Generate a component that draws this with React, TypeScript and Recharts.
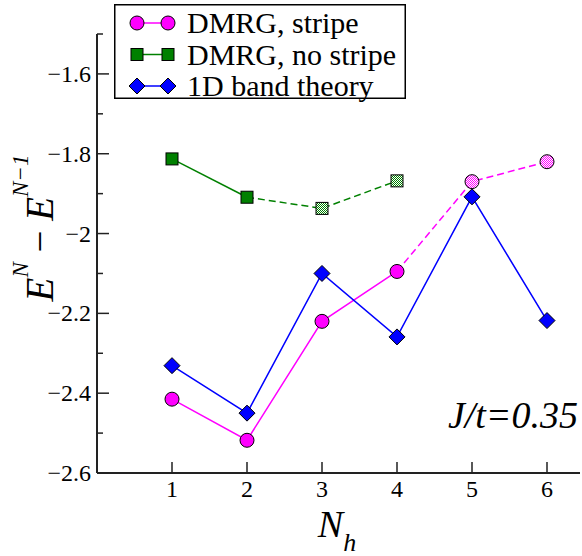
import React from 'react';
import { LineChart, Line, XAxis, YAxis, Label } from 'recharts';

const nh = [1, 2, 3, 4, 5, 6];
const stripe = [-2.415, -2.518, -2.22, -2.095, -1.87, -1.82];
const noStripe = [-1.813, -1.909, -1.937, -1.868];
const band = [-2.331, -2.45, -2.1, -2.259, -1.908, -2.218];

const xTicks = [1, 2, 3, 4, 5, 6];
const yTicks = [-2.6, -2.5, -2.4, -2.3, -2.2, -2.1, -2.0, -1.9, -1.8, -1.7, -1.6, -1.5];

// points drawn with the stippled (extrapolated) marker
const stripeHatched = [4, 5];
const noStripeHatched = [2, 3];

const FONT = "'Liberation Serif', 'DejaVu Serif', 'Times New Roman', serif";
const MAGENTA = '#ff00ff';
const GREEN = '#008000';
const BLUE = '#0000ff';

const rows = nh.map((n, i) => ({
  n,
  stripeSolid: i <= 3 ? stripe[i] : null,
  stripeDash: i >= 3 ? stripe[i] : null,
  noStripeSolid: i <= 1 ? noStripe[i] : null,
  noStripeDash: i >= 1 && i < noStripe.length ? noStripe[i] : null,
  band: band[i],
}));

function Marker({ kind, cx, cy, color, hatched }: any) {
  const pid = `hatch-${kind}`;
  const fill = hatched ? `url(#${pid})` : color;
  let shape;
  if (kind === 'circle') {
    shape = <circle cx={cx} cy={cy} r={7} fill={fill} stroke="#000" strokeWidth={1} />;
  } else if (kind === 'square') {
    shape = <rect x={cx - 6} y={cy - 6} width={12} height={12} fill={fill} stroke="#000" strokeWidth={1} />;
  } else {
    shape = (
      <polygon
        points={`${cx},${cy - 8} ${cx + 8},${cy} ${cx},${cy + 8} ${cx - 8},${cy}`}
        fill={fill}
        stroke="#000"
        strokeWidth={1}
      />
    );
  }
  return (
    <g>
      {hatched && (
        <defs>
          <pattern id={pid} width={2} height={2} patternUnits="userSpaceOnUse">
            <rect width={2} height={2} fill="#fff" />
            <rect width={1} height={1} fill={color} />
            <rect x={1} y={1} width={1} height={1} fill={color} />
          </pattern>
        </defs>
      )}
      {shape}
    </g>
  );
}

function dotFor(kind: string, color: string, only?: number[]) {
  return (props: any) => {
    const { cx, cy, index, value } = props;
    if (value == null || cx == null || cy == null || (only && !only.includes(index))) {
      return <g key={index} />;
    }
    const hatched =
      (kind === 'circle' && stripeHatched.includes(index)) ||
      (kind === 'square' && noStripeHatched.includes(index));
    return <Marker key={index} kind={kind} cx={cx} cy={cy} color={color} hatched={hatched} />;
  };
}

function fmt(v: number) {
  const s = Number.isInteger(v) ? String(v) : v.toFixed(1);
  return s.replace('-', '\u2212');
}

const serif = { fontFamily: FONT };

function YTick(props: any) {
  const { x, y, payload } = props;
  const v = payload.value;
  const major = Math.round(Math.abs(v) * 10) % 2 === 0;
  return (
    <g>
      <line x1={x} x2={x + (major ? 12 : 6)} y1={y} y2={y} stroke="#222" strokeWidth={1.5} />
      {major && (
        <text x={x - 6} y={y + 8} textAnchor="end" style={serif} fontSize={24} fill="#000">
          {fmt(Math.round(v * 10) / 10)}
        </text>
      )}
    </g>
  );
}

function XTick(props: any) {
  const { x, y, payload } = props;
  return (
    <g>
      <line x1={x} x2={x} y1={y} y2={y - 11} stroke="#222" strokeWidth={1.5} />
      <text x={x} y={y + 24} textAnchor="middle" style={serif} fontSize={24} fill="#000">
        {payload.value}
      </text>
    </g>
  );
}

const legendItems = [
  { kind: 'circle', color: MAGENTA, label: 'DMRG, stripe' },
  { kind: 'square', color: GREEN, label: 'DMRG, no stripe' },
  { kind: 'diamond', color: BLUE, label: '1D band theory' },
];

function Overlay() {
  return (
    <svg
      width={582}
      height={556}
      style={{ position: 'absolute', left: 0, top: 0, pointerEvents: 'none' }}
    >
      <g transform="translate(114, 4)">
        <rect x={0.75} y={0.75} width={290.5} height={93.5} fill="#fff" stroke="#000" strokeWidth={1.5} />
        {legendItems.map((it, i) => {
          const cy = 19 + i * 31.5;
          return (
            <g key={it.label}>
              <line x1={23} x2={54} y1={cy} y2={cy} stroke={it.color} strokeWidth={1.5} />
              <Marker kind={it.kind} cx={23} cy={cy} color={it.color} hatched={false} />
              <Marker kind={it.kind} cx={54} cy={cy} color={it.color} hatched={false} />
              <text x={73} y={cy + 10} style={serif} fontSize={30} fill="#000">
                {it.label}
              </text>
            </g>
          );
        })}
      </g>
      <text x={578} y={428} textAnchor="end" style={serif} fontStyle="italic" fontSize={38} fill="#000">
        J/t=0.35
      </text>
    </svg>
  );
}

export default function App() {
  return (
    <div style={{ position: 'absolute', left: 0, top: 0, width: 582, height: 556, background: '#fff' }}>
      <LineChart width={582} height={556} data={rows} margin={{ top: 34, right: 2, bottom: 0, left: 0 }}>
        <XAxis
          dataKey="n"
          type="number"
          domain={[0, 6.44]}
          ticks={xTicks}
          allowDataOverflow
          height={83}
          tickSize={0}
          tickMargin={0}
          tick={<XTick />}
          axisLine={{ stroke: '#222', strokeWidth: 2 }}
        >
          <Label
            content={() => (
              <text x={337} y={537} textAnchor="middle" style={serif} fontStyle="italic" fill="#000">
                <tspan fontSize={38}>N</tspan>
                <tspan fontSize={26} dy={14}>h</tspan>
              </text>
            )}
          />
        </XAxis>
        <YAxis
          type="number"
          domain={[-2.6, -1.5]}
          ticks={yTicks}
          allowDataOverflow
          width={97}
          tickSize={0}
          tickMargin={0}
          tick={<YTick />}
          interval={0}
          axisLine={{ stroke: '#222', strokeWidth: 2 }}
        >
          <Label
            content={() => (
              <text
                x={53}
                y={228}
                transform="rotate(-90, 53, 228)"
                textAnchor="middle"
                style={serif}
                fill="#000"
              >
                <tspan fontSize={39} fontStyle="italic">E</tspan>
                <tspan fontSize={23} fontStyle="italic" dy={-25}>N</tspan>
                <tspan fontSize={39} dy={25}>{' \u2212 '}</tspan>
                <tspan fontSize={39} fontStyle="italic">E</tspan>
                <tspan fontSize={23} fontStyle="italic" dy={-25}>{'N\u22121'}</tspan>
              </text>
            )}
          />
        </YAxis>
        <Line
          dataKey="noStripeSolid"
          stroke={GREEN}
          strokeWidth={1.5}
          dot={dotFor('square', GREEN)}
          isAnimationActive={false}
        />
        <Line
          dataKey="noStripeDash"
          stroke={GREEN}
          strokeWidth={1.5}
          strokeDasharray="7 4"
          dot={dotFor('square', GREEN, noStripeHatched)}
          isAnimationActive={false}
        />
        <Line
          dataKey="stripeSolid"
          stroke={MAGENTA}
          strokeWidth={1.5}
          dot={dotFor('circle', MAGENTA)}
          isAnimationActive={false}
        />
        <Line
          dataKey="stripeDash"
          stroke={MAGENTA}
          strokeWidth={1.5}
          strokeDasharray="7 4"
          dot={dotFor('circle', MAGENTA, stripeHatched)}
          isAnimationActive={false}
        />
        <Line
          dataKey="band"
          stroke={BLUE}
          strokeWidth={1.5}
          dot={dotFor('diamond', BLUE)}
          isAnimationActive={false}
        />
      </LineChart>
      <Overlay />
    </div>
  );
}
